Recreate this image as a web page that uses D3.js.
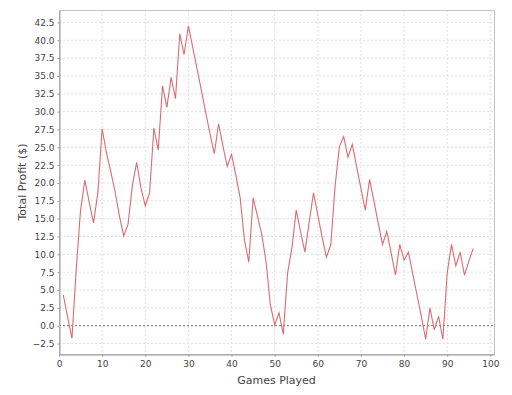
<!DOCTYPE html>
<html>
<head>
<meta charset="utf-8">
<script src="https://cdn.jsdelivr.net/npm/d3@7"></script>
<style>
    body { margin: 0; background: #fff; }
    .axis text { font-family: "DejaVu Sans", sans-serif; font-size: 9px; fill: #444; }
    .axis-label { font-family: "DejaVu Sans", sans-serif; font-size: 11px; fill: #444; }
</style>
</head>
<body>
<div id="chart"></div>
<script>
const games = d3.range(1, 97);
const profit = [
    4.3, 1.2, -1.8, 8.0, 16.2, 20.4, 17.3, 14.4, 18.6, 27.6,
    24.2, 21.6, 18.8, 15.4, 12.6, 14.2, 19.6, 22.9, 19.3, 16.8,
    18.6, 27.7, 24.6, 33.6, 30.6, 34.8, 31.8, 40.9, 38.0, 42.0,
    39.0, 36.0, 33.0, 29.9, 26.9, 24.1, 28.3, 25.2, 22.3, 24.0,
    21.1, 17.9, 12.0, 8.9, 17.9, 15.4, 12.8, 9.0, 2.9, 0.1,
    1.8, -1.2, 7.4, 10.9, 16.2, 13.2, 10.3, 14.5, 18.6, 15.5,
    12.4, 9.6, 11.3, 19.5, 25.1, 26.5, 23.6, 25.4, 22.3, 19.2,
    16.2, 20.5, 17.5, 14.4, 11.4, 13.2, 10.2, 7.1, 11.4, 9.2,
    10.3, 7.3, 4.3, 1.3, -1.9, 2.5, -0.6, 1.3, -1.9, 7.4,
    11.4, 8.4, 10.3, 7.1, 9.0, 10.8
];
const xTicks = d3.range(0, 101, 10);
const yTicks = d3.range(-2.5, 42.6, 2.5);

const data = games.map((g, i) => ({ game: g, value: profit[i] }));

const margin = { top: 10, right: 18, bottom: 41, left: 59 };
const totalW = 512, totalH = 395;
const width = totalW - margin.left - margin.right;
const height = totalH - margin.top - margin.bottom;

const svg = d3.select("#chart").append("svg")
    .attr("width", totalW)
    .attr("height", totalH)
    .append("g")
    .attr("transform", `translate(${margin.left}, ${margin.top})`);

const x = d3.scaleLinear().domain([0, 100.85]).range([0, width]);
const y = d3.scaleLinear().domain([-3.97, 44.24]).range([height, 0]);

// gridlines
svg.append("g").selectAll("line.vgrid")
    .data(xTicks.filter(d => d > 0))
    .enter().append("line")
    .attr("x1", d => x(d)).attr("x2", d => x(d))
    .attr("y1", 0).attr("y2", height)
    .attr("stroke", "#e0e0e0")
    .attr("stroke-dasharray", "2,2");

svg.append("g").selectAll("line.hgrid")
    .data(yTicks)
    .enter().append("line")
    .attr("x1", 0).attr("x2", width)
    .attr("y1", d => y(d)).attr("y2", d => y(d))
    .attr("stroke", d => d === 0 ? "#666" : "#e0e0e0")
    .attr("stroke-dasharray", "2,2");

// plot outline
svg.append("rect")
    .attr("x", 0.5).attr("y", 0.5)
    .attr("width", width).attr("height", height)
    .attr("fill", "none")
    .attr("stroke", "#c4c4c4");

const line = d3.line()
    .x(d => x(d.game))
    .y(d => y(d.value));

svg.append("path")
    .datum(data)
    .attr("fill", "none")
    .attr("stroke", "#dc6a72")
    .attr("stroke-width", 1.1)
    .attr("d", line);

const xAxis = d3.axisBottom(x).tickValues(xTicks).tickFormat(d3.format("d"))
    .tickSizeInner(2).tickSizeOuter(0).tickPadding(4);
const yAxis = d3.axisLeft(y).tickValues(yTicks).tickFormat(d3.format(".1f"))
    .tickSizeInner(2).tickSizeOuter(0).tickPadding(3);

const gx = svg.append("g").attr("class", "axis")
    .attr("transform", `translate(0, ${height + 0.5})`)
    .call(xAxis);
const gy = svg.append("g").attr("class", "axis")
    .attr("transform", "translate(0.5, 0)")
    .call(yAxis);
[gx, gy].forEach(g => {
    g.select(".domain").attr("stroke", "#999");
    g.selectAll(".tick line").attr("stroke", "#999");
});

svg.append("text")
    .attr("class", "axis-label")
    .attr("text-anchor", "middle")
    .attr("x", width / 2)
    .attr("y", height + 30)
    .text("Games Played");

svg.append("text")
    .attr("class", "axis-label")
    .attr("text-anchor", "middle")
    .attr("transform", `translate(-33, ${height / 2}) rotate(-90)`)
    .text("Total Profit ($)");
</script>
</body>
</html>
